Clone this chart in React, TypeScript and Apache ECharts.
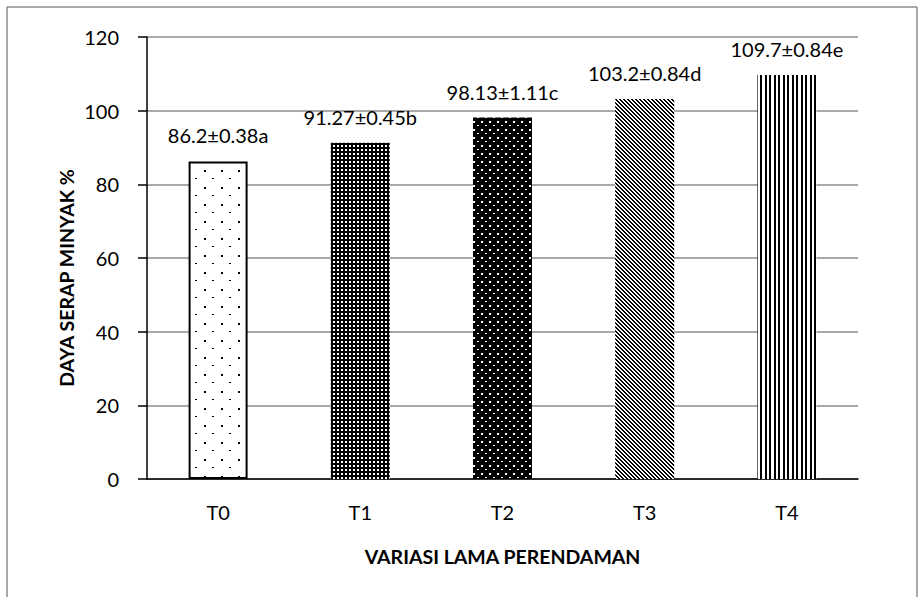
import React, { useEffect, useRef } from "react";
import * as echarts from "echarts";

const categories = ["T0", "T1", "T2", "T3", "T4"];
const values = [86.2, 91.27, 98.13, 103.2, 109.7];
const valueLabels = ["86.2±0.38a", "91.27±0.45b", "98.13±1.11c", "103.2±0.84d", "109.7±0.84e"];
const yTicks = [0, 20, 40, 60, 80, 100, 120];
const yTitle = "DAYA SERAP MINYAK %";
const xTitle = "VARIASI LAMA PERENDAMAN";

function makeTile(w: number, h: number, draw: (ctx: CanvasRenderingContext2D) => void) {
  const c = document.createElement("canvas");
  c.width = w;
  c.height = h;
  const ctx = c.getContext("2d")!;
  draw(ctx);
  return c;
}

function patterns() {
  const p0 = makeTile(17, 17, (ctx) => {
    ctx.fillStyle = "#fff";
    ctx.fillRect(0, 0, 17, 17);
    ctx.fillStyle = "#000";
    ctx.fillRect(0, 0, 2, 2);
    ctx.fillRect(8, 8, 2, 1);
  });
  const p1 = makeTile(4, 4, (ctx) => {
    ctx.fillStyle = "#000";
    ctx.fillRect(0, 0, 4, 4);
    ctx.fillStyle = "#fff";
    ctx.fillRect(1, 1, 2, 2);
  });
  const p2 = makeTile(8, 8, (ctx) => {
    ctx.fillStyle = "#000";
    ctx.fillRect(0, 0, 8, 8);
    ctx.fillStyle = "#fff";
    ctx.fillRect(1, 1, 2, 2);
    ctx.fillRect(5, 5, 2, 1);
  });
  const p3 = makeTile(4, 4, (ctx) => {
    ctx.fillStyle = "#fff";
    ctx.fillRect(0, 0, 4, 4);
    ctx.fillStyle = "#000";
    for (let x = 0; x < 4; x++) {
      for (let y = 0; y < 4; y++) {
        if ((((x - y) % 4) + 4) % 4 < 2) ctx.fillRect(x, y, 1, 1);
      }
    }
  });
  const p4 = makeTile(9, 4, (ctx) => {
    ctx.fillStyle = "#fff";
    ctx.fillRect(0, 0, 9, 4);
    ctx.fillStyle = "#000";
    ctx.fillRect(0, 0, 2, 4);
    ctx.fillRect(4, 0, 2, 4);
  });
  return [p0, p1, p2, p3, p4];
}

export default function App() {
  const ref = useRef<HTMLDivElement>(null);
  useEffect(() => {
    if (!ref.current) return;
    const chart = echarts.init(ref.current, null, { renderer: "svg" });
    const pats = patterns();
    const font = "Lato";
    chart.setOption({
      animation: false,
      backgroundColor: "#fff",
      grid: { left: 147, top: 37, right: 65, bottom: 118, containLabel: false },
      graphic: [
        { type: "line", shape: { x1: 7, y1: 7, x2: 917, y2: 7 }, style: { stroke: "#8c8c8c", lineWidth: 1.5 } },
        { type: "line", shape: { x1: 7, y1: 7, x2: 7, y2: 597 }, style: { stroke: "#8c8c8c", lineWidth: 1.5 } },
        { type: "line", shape: { x1: 917, y1: 7, x2: 917, y2: 597 }, style: { stroke: "#8c8c8c", lineWidth: 1.5 } },
        {
          type: "text",
          x: 66,
          y: 278,
          rotation: Math.PI / 2,
          style: {
            text: yTitle,
            fill: "#000",
            font: `bold 19.5px ${font}`,
            align: "center",
            verticalAlign: "middle",
          },
        },
      ],
      xAxis: {
        type: "category",
        data: categories,
        axisLine: { lineStyle: { color: "#000", width: 1.5 } },
        axisTick: { show: false },
        axisLabel: { color: "#000", fontFamily: font, fontSize: 20, margin: 23 },
        name: xTitle,
        nameLocation: "middle",
        nameGap: 67,
        nameTextStyle: { color: "#000", fontFamily: font, fontSize: 19.5, fontWeight: "bold" },
      },
      yAxis: {
        type: "value",
        min: 0,
        max: 120,
        interval: 20,
        axisLine: { show: true, lineStyle: { color: "#000", width: 1.5 } },
        axisTick: { show: true, length: 9, lineStyle: { color: "#000", width: 1.5 } },
        axisLabel: {
          color: "#000",
          fontFamily: font,
          fontSize: 20,
          margin: 28,
          formatter: (v: number) => (yTicks.includes(v) ? String(v) : ""),
        },
        splitLine: { lineStyle: { color: "#8c8c8c", width: 1.5 } },
      },
      series: [
        {
          type: "bar",
          barWidth: 59,
          data: values.map((v, i) => ({
            value: v,
            itemStyle: {
              color: { image: pats[i], repeat: "repeat" },
              borderColor: i === 0 ? "#000" : "transparent",
              borderWidth: i === 0 ? 2 : 0,
            },
          })),
          label: {
            show: true,
            position: "top",
            distance: 16,
            color: "#000",
            fontFamily: font,
            fontSize: 20,
            formatter: (p: any) => valueLabels[p.dataIndex],
          },
        },
      ],
    });
    return () => chart.dispose();
  }, []);
  return (
    <div
      ref={ref}
      style={{ position: "fixed", left: 0, top: 0, width: 923, height: 597 }}
    />
  );
}
